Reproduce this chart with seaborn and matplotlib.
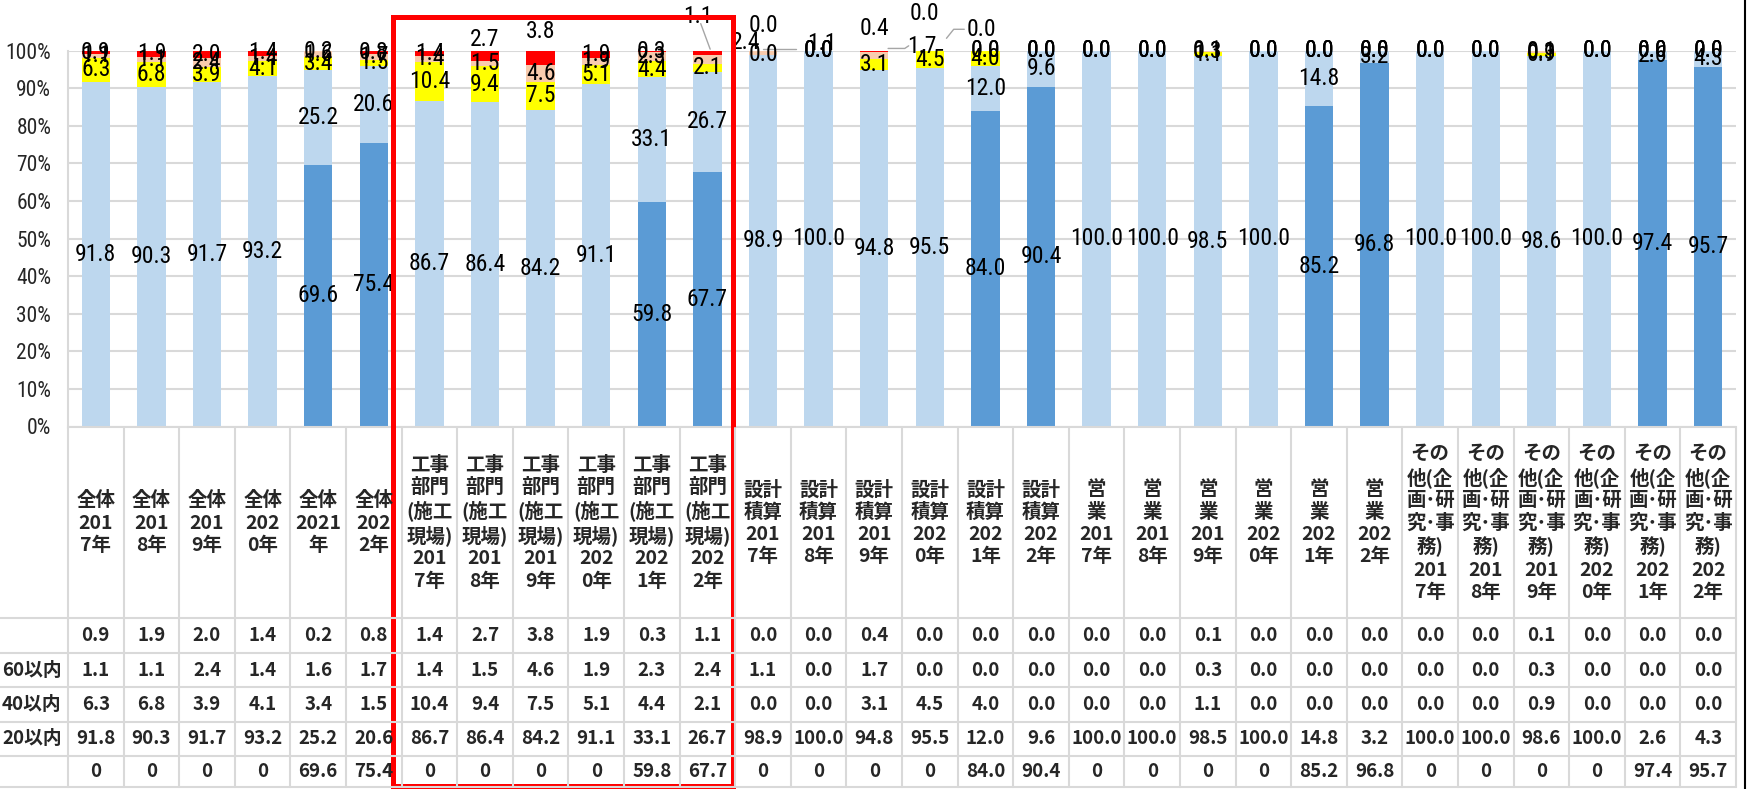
import numpy as np
import pandas as pd
import matplotlib
matplotlib.use("Agg")
import matplotlib.pyplot as plt
import seaborn as sns
from matplotlib import font_manager
from matplotlib.patches import Rectangle

# =======================
# Data (read off the chart's data table)
# =======================
groups = ["全体", "工事", "設計", "営業", "その他"]
years = ["2017年", "2018年", "2019年", "2020年", "2021年", "2022年"]

# header text, wrapped the way the table shows it
koji = "工事\n部門\n(施工\n現場)\n"
sekkei = "設計\n積算\n"
eigyo = "営\n業\n"
sonota = "その\n他(企\n画･研\n究･事\n務)\n"
header_labels = [
    "全体\n201\n7年", "全体\n201\n8年", "全体\n201\n9年", "全体\n202\n0年", "全体\n2021\n年", "全体\n202\n2年",
    koji + "201\n7年", koji + "201\n8年", koji + "201\n9年", koji + "202\n0年", koji + "202\n1年", koji + "202\n2年",
    sekkei + "201\n7年", sekkei + "201\n8年", sekkei + "201\n9年", sekkei + "202\n0年", sekkei + "202\n1年", sekkei + "202\n2年",
    eigyo + "201\n7年", eigyo + "201\n8年", eigyo + "201\n9年", eigyo + "202\n0年", eigyo + "202\n1年", eigyo + "202\n2年",
    sonota + "201\n7年", sonota + "201\n8年", sonota + "201\n9年", sonota + "202\n0年", sonota + "202\n1年", sonota + "202\n2年",
]

over60 = [0.9, 1.9, 2.0, 1.4, 0.2, 0.8,
          1.4, 2.7, 3.8, 1.9, 0.3, 1.1,
          0.0, 0.0, 0.4, 0.0, 0.0, 0.0,
          0.0, 0.0, 0.1, 0.0, 0.0, 0.0,
          0.0, 0.0, 0.1, 0.0, 0.0, 0.0]
within60 = [1.1, 1.1, 2.4, 1.4, 1.6, 1.7,
            1.4, 1.5, 4.6, 1.9, 2.3, 2.4,
            1.1, 0.0, 1.7, 0.0, 0.0, 0.0,
            0.0, 0.0, 0.3, 0.0, 0.0, 0.0,
            0.0, 0.0, 0.3, 0.0, 0.0, 0.0]
within40 = [6.3, 6.8, 3.9, 4.1, 3.4, 1.5,
            10.4, 9.4, 7.5, 5.1, 4.4, 2.1,
            0.0, 0.0, 3.1, 4.5, 4.0, 0.0,
            0.0, 0.0, 1.1, 0.0, 0.0, 0.0,
            0.0, 0.0, 0.9, 0.0, 0.0, 0.0]
within20 = [91.8, 90.3, 91.7, 93.2, 25.2, 20.6,
            86.7, 86.4, 84.2, 91.1, 33.1, 26.7,
            98.9, 100.0, 94.8, 95.5, 12.0, 9.6,
            100.0, 100.0, 98.5, 100.0, 14.8, 3.2,
            100.0, 100.0, 98.6, 100.0, 2.6, 4.3]
base = [0, 0, 0, 0, 69.6, 75.4,
        0, 0, 0, 0, 59.8, 67.7,
        0, 0, 0, 0, 84.0, 90.4,
        0, 0, 0, 0, 85.2, 96.8,
        0, 0, 0, 0, 97.4, 95.7]

row_names = ["", "60以内", "40以内", "20以内", ""]
series_colors = ["#5B9BD5", "#BDD7EE", "#FFFF00", "#F8CBAD", "#FF0000"]

df = pd.DataFrame({
    "cat": [g + y for g in groups for y in years],
    "base": base, "w20": within20, "w40": within40, "w60": within60, "o60": over60,
})
layers = ["base", "w20", "w40", "w60", "o60"]
cum = df[layers].cumsum(axis=1)

# labels that were dragged off their segment in the original: (bar, layer) -> (dx, y%)
moved = {
    (7, "o60"): (0.0, 103.1),
    (8, "o60"): (0.0, 105.2),
    (11, "o60"): (-0.18, 109.2),
    (11, "w60"): (0.68, 102.3),
    (12, "o60"): (0.0, 106.8),
    (12, "w60"): (1.05, 101.8),
    (14, "o60"): (0.0, 106.0),
    (14, "w60"): (0.86, 101.2),
    (15, "o60"): (-0.1, 110.0),
    (15, "w60"): (0.92, 105.7),
}
leaders = [
    [(10.88, 107.2), (11.05, 100.4)],
    [(12.0, 100.4), (12.6, 100.4)],
    [(14.25, 100.6), (14.55, 100.6), (14.62, 101.3)],
    [(15.3, 103.3), (15.43, 105.7), (15.62, 105.7)],
]

# =======================
# Fonts / style
# =======================
sns.set_style("white")
cjk = "Noto Sans CJK JP"
plt.rcParams["font.family"] = [cjk, "DejaVu Sans"]
installed = {f.name for f in font_manager.fontManager.ttflist}
narrow = next((f for f in ["Liberation Sans Narrow", "DejaVu Sans Condensed", "Roboto Condensed", "Roboto"]
               if f in installed), "DejaVu Sans")

W, H = 1753, 789
fig = plt.figure(figsize=(W / 100, H / 100), dpi=100)

X0, CW = 68, 55.6
y100, y0 = 50.7, 426.5
ax = fig.add_axes([X0 / W, (H - y0) / H, 30 * CW / W, (y0 - y100) / H])

# stacked bars: draw tallest cumulative first, lower layers over it
for layer, color in zip(layers[::-1], series_colors[::-1]):
    sns.barplot(x=df["cat"], y=cum[layer], color=color, saturation=1,
                width=0.51, errorbar=None, linewidth=0, ax=ax, zorder=2)

ax.set_xlim(-0.5, 29.5)
ax.set_ylim(0, 100)
ax.set_xlabel("")
ax.set_ylabel("")
ax.set_xticks([])
ax.set_yticks(range(0, 101, 10))
ax.set_yticklabels([f"{v}%" for v in range(0, 101, 10)], fontfamily=narrow, fontsize=15.5)
ax.tick_params(axis="y", length=0, pad=12)
ax.yaxis.grid(True, color="#D9D9D9", lw=1.5, zorder=0)
ax.set_axisbelow(True)
for s in ["top", "right"]:
    ax.spines[s].set_visible(False)
for s in ["left", "bottom"]:
    ax.spines[s].set_color("#D9D9D9")
    ax.spines[s].set_linewidth(1.5)

# data labels
for i in range(len(df)):
    bottom = 0.0
    for layer in layers:
        v = df.loc[i, layer]
        if not (layer == "base" and v == 0):
            dx, yy = moved.get((i, layer), (0.0, bottom + v / 2))
            ax.text(i + dx, yy, f"{v:.1f}", ha="center", va="center",
                    fontfamily=narrow, fontsize=17, color="black", clip_on=False, zorder=5)
        bottom += v
for pts in leaders:
    xs, ys = zip(*pts)
    ax.plot(xs, ys, color="#A6A6A6", lw=1, clip_on=False, zorder=4)

# =======================
# Data table under the chart
# =======================
ov = fig.add_axes([0, 0, 1, 1])
ov.set_xlim(0, W)
ov.set_ylim(H, 0)
ov.axis("off")

top = 428
row_lines = [618.3, 652.7, 687.3, 721.7, 756.0, 786.7]
right = X0 + 30 * CW
grid_kw = dict(color="#D9D9D9", lw=1.5)
for k in range(31):
    ov.plot([X0 + k * CW] * 2, [top, row_lines[-1]], **grid_kw)
for yl in row_lines:
    ov.plot([0, right], [yl, yl], **grid_kw)

for i, lab in enumerate(header_labels):
    ov.text(X0 + (i + 0.5) * CW, (top + row_lines[0]) / 2, lab, ha="center", va="center",
            fontsize=14, fontweight="bold", linespacing=1.22)

table_rows = [over60, within60, within40, within20, base]
for r, (name, vals) in enumerate(zip(row_names, table_rows)):
    yc = (row_lines[r] + row_lines[r + 1]) / 2
    ov.text(2, yc, name, ha="left", va="center", fontsize=13.5, fontweight="bold")
    for i, v in enumerate(vals):
        txt = "0" if (r == 4 and v == 0) else f"{v:.1f}"
        ov.text(X0 + (i + 0.5) * CW, yc, txt, ha="center", va="center",
                fontsize=13.5, fontweight="bold")

# red highlight box around 工事部門 and the frame edge on the right
ov.add_patch(Rectangle((393, 17), 340, 769, fill=False, edgecolor="#FF0000", lw=3.6))
ov.plot([1745, 1745], [0, H], color="black", lw=1.5)

fig.savefig("out.png", dpi=100)
